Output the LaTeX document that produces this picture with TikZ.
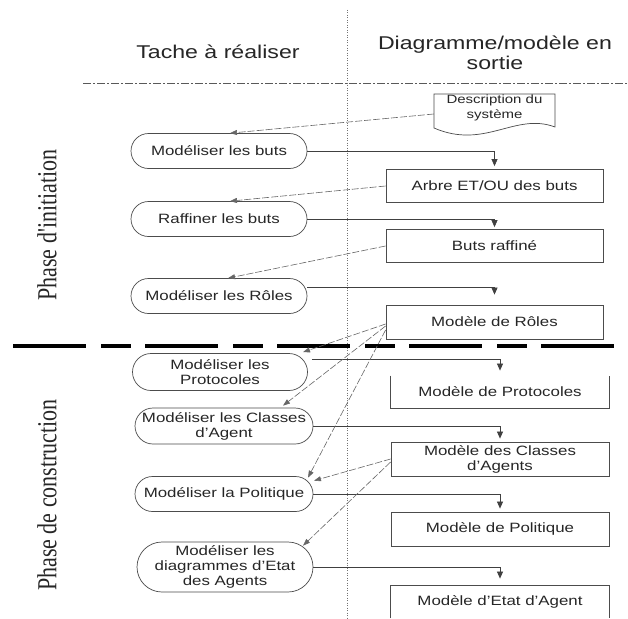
\documentclass[tikz,border=0pt]{standalone}
\usepackage{fontspec}
\setmainfont{Liberation Sans}[FakeStretch=1.25]
\newfontfamily\phasefont{Liberation Serif}
\usetikzlibrary{arrows.meta,shapes.misc}

\tikzset{
  nodefont/.style={font=\fontsize{13.5}{15}\selectfont, text=black!85},
  task/.style={rounded rectangle, draw=black!70, line width=0.7pt,
    minimum width=176pt, minimum height=35pt, inner sep=0pt, align=center, nodefont},
  model/.style={rectangle, draw=black!70, line width=0.8pt,
    minimum width=217pt, minimum height=33pt, inner sep=0pt, align=center, nodefont},
  outflow/.style={draw=black!75, line width=0.7pt, -{Triangle[length=7pt,width=6pt]}},
  inflow/.style={draw=black!60, line width=0.6pt, dash pattern=on 7pt off 2pt,
    -{Triangle[length=7pt,width=5pt]}},
  header/.style={font=\fontsize{18.5}{20.5}\selectfont, text=black!85, align=center},
  phase/.style={rotate=90, text=black!85, inner sep=0pt},
  guide/.style={draw=black!55, line width=0.5pt},
}

\begin{document}
\begin{tikzpicture}[x=1pt,y=-1pt]
\useasboundingbox[fill=white] (0,0) rectangle (628,618);

% column and phase separators
\draw[guide, dash pattern=on 1pt off 1.5pt] (347,10) -- (347,618);
\draw[guide, draw=black!65, line width=0.7pt, dash pattern=on 8pt off 2pt on 2pt off 2pt] (83,83) -- (628,83);
\draw[black, line width=3.5pt, dash pattern=on 73pt off 15pt on 30pt off 14pt] (13,346) -- (628,346);

% headers
\node[header] (hleft) at (218,52) {Tache à réaliser};
\node[header] (hright) at (495,53) {Diagramme/modèle en\\sortie};

% phase labels
\node[phase] (ph1) at (47,225) {\scalebox{1}[1.25]{\phasefont\fontsize{22}{24}\selectfont Phase d'initiation}};
\node[phase] (ph2) at (47,495) {\scalebox{1}[1.25]{\phasefont\fontsize{22}{24}\selectfont Phase de construction}};

% input document
\node[font=\fontsize{12}{15}\selectfont, text=black!85, align=center, minimum width=121pt, minimum height=28pt, inner sep=0pt] (desc) at (494.5,108) {Description du\\système};
\draw[black!70, line width=0.7pt] (434,94) -- (555,94) -- (555,127)
  .. controls (515,112) and (485,150) .. (434,128) -- cycle;

% tasks
\node[task] (buts) at (219,151) {Modéliser les buts};
\node[task] (raff) at (219,219) {Raffiner les buts};
\node[task] (roles) at (219,296) {Modéliser les Rôles};
\node[task, minimum width=175pt, minimum height=37pt] (proto) at (220,372) {Modéliser les\\Protocoles};
\node[task, minimum width=178pt, minimum height=36pt] (classes) at (224,426) {Modéliser les Classes\\d'Agent};
\node[task, minimum width=178pt] (polit) at (224,494) {Modéliser la Politique};
\node[task, minimum width=176pt, minimum height=50pt] (etat) at (225,567) {Modéliser les\\diagrammes d'Etat\\des Agents};

% output models
\node[model] (arbre) at (494.5,186) {Arbre ET/OU des buts};
\node[model] (butsr) at (494.5,246) {Buts raffiné};
\node[model, minimum height=34pt] (mroles) at (494.5,322) {Modèle de Rôles};
\node[model, draw=none, minimum width=218pt, minimum height=32pt] (mproto) at (500,392) {Modèle de Protocoles};
\draw[black!70, line width=0.8pt] (mproto.north west) -- (mproto.south west) -- (mproto.south east) -- (mproto.north east);
\node[model, minimum width=218pt, minimum height=34pt] (mclasses) at (500,459) {Modèle des Classes\\d'Agents};
\node[model, minimum width=218pt, minimum height=34pt] (mpolit) at (500,529) {Modèle de Politique};
\node[model, draw=none, minimum width=218pt, minimum height=32pt] (metat) at (500,602) {Modèle d'Etat d'Agent};
\draw[black!70, line width=0.8pt] (metat.south west) -- (metat.north west) -- (metat.north east) -- (metat.south east);

% task -> produced model
\draw[outflow] (buts.east) -| ([yshift=3pt]arbre.north);
\draw[outflow] (raff.east) -| ([yshift=2pt]butsr.north);
\draw[outflow] ([yshift=9pt]roles.east) -| ([yshift=10pt]mroles.north);
\draw[outflow] ([xshift=4pt,yshift=13pt]proto.east) -| ([yshift=5pt]mproto.north);
\draw[outflow] (classes.east) -| ([yshift=3pt]mclasses.north);
\draw[outflow] (polit.east) -| ([yshift=3pt]mpolit.north);
\draw[outflow] (etat.east) -| ([yshift=7pt]metat.north);

% model -> consuming task
\draw[inflow] ([yshift=-6pt]desc.west) -- ([xshift=11pt]buts.north);
\draw[inflow] (arbre.west) -- ([xshift=11pt]raff.north);
\draw[inflow] (butsr.west) -- ([xshift=9pt]roles.north);
\draw[inflow] ([yshift=-2pt]mroles.west) -- ([xshift=83pt,yshift=1pt]proto.north);
\draw[inflow] ([yshift=-4pt]mroles.west) -- ([xshift=59pt,yshift=2pt]classes.north);
\draw[inflow] ([yshift=-8pt]mroles.west) -- ([xshift=84pt,yshift=-1.5pt]polit.north);
\draw[inflow] (mclasses.west) -- ([xshift=90pt,yshift=-4.5pt]polit.north);
\draw[inflow] ([yshift=-3pt]mclasses.west) -- ([xshift=78pt,yshift=-4pt]etat.north);
\end{tikzpicture}
\end{document}
